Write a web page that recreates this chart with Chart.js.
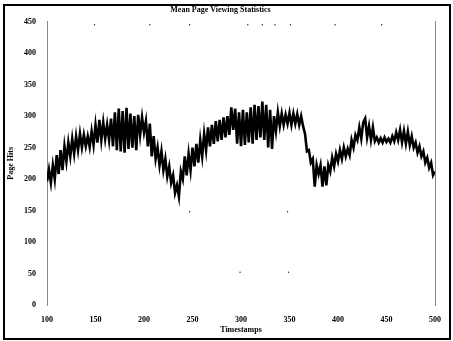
<!DOCTYPE html>
<html>
<head>
<meta charset="utf-8">
<script src="https://cdn.jsdelivr.net/npm/chart.js@4/dist/chart.umd.min.js"></script>
<style>
  body { margin: 0; background: #fff; }
  #wrap { position: relative; width: 453px; height: 341px; }
  #frame { position: absolute; left: 3px; top: 4px; width: 444px; height: 332px; border: 2px solid #000; pointer-events: none; }
  canvas { position: absolute; left: 0; top: 0; }
</style>
</head>
<body>
<div id="wrap">
  <canvas id="chart" width="453" height="341"></canvas>
  <div id="frame"></div>
</div>
<script>
// valores
const xValues = [
  100, 102, 104, 106, 108, 110, 112, 114, 116, 118, 120, 122, 124, 126, 128, 130, 132, 134, 136, 138,
  140, 142, 144, 146, 148, 150, 152, 154, 156, 158, 160, 162, 164, 166, 168, 170, 172, 174, 176, 178,
  180, 182, 184, 186, 188, 190, 192, 194, 196, 198, 200, 202, 204, 206, 208, 210, 212, 214, 216, 218,
  220, 222, 224, 226, 228, 230, 232, 234, 236, 238, 240, 242, 244, 246, 248, 250, 252, 254, 256, 258,
  260, 262, 264, 266, 268, 270, 272, 274, 276, 278, 280, 282, 284, 286, 288, 290, 292, 294, 296, 298,
  300, 302, 304, 306, 308, 310, 312, 314, 316, 318, 320, 322, 324, 326, 328, 330, 332, 334, 336, 338,
  340, 342, 344, 346, 348, 350, 352, 354, 356, 358, 360, 362, 364, 366, 368, 370, 372, 374, 376, 378,
  380, 382, 384, 386, 388, 390, 392, 394, 396, 398, 400, 402, 404, 406, 408, 410, 412, 414, 416, 418,
  420, 422, 424, 426, 428, 430, 432, 434, 436, 438, 440, 442, 444, 446, 448, 450, 452, 454, 456, 458,
  460, 462, 464, 466, 468, 470, 472, 474, 476, 478, 480, 482, 484, 486, 488, 490, 492, 494, 496, 498,
  500
];

const pageValues = [
  196, 215, 194, 222, 200, 238, 208, 246, 214, 252, 228, 258, 236, 264, 240, 268, 246, 272, 250, 270,
  252, 268, 251, 276, 254, 286, 258, 294, 262, 290, 264, 286, 262, 296, 252, 306, 246, 312, 244, 308,
  242, 313, 248, 304, 250, 300, 246, 302, 270, 298, 274, 292, 252, 288, 236, 268, 232, 250, 222, 244,
  214, 232, 204, 220, 194, 206, 178, 190, 172, 212, 200, 236, 206, 240, 214, 250, 220, 256, 226, 262,
  236, 272, 246, 282, 252, 286, 256, 292, 260, 294, 262, 298, 266, 300, 270, 314, 278, 312, 256, 306,
  252, 310, 254, 306, 258, 314, 256, 318, 262, 316, 266, 323, 262, 318, 250, 310, 248, 300, 276, 306,
  284, 304, 286, 302, 288, 305, 286, 304, 288, 303, 286, 300, 284, 272, 244, 246, 226, 232, 188, 222,
  208, 222, 188, 220, 190, 222, 212, 234, 220, 240, 228, 246, 232, 250, 236, 248, 238, 262, 250, 270,
  262, 282, 264, 290, 296, 266, 284, 262, 282, 260, 266, 258, 265, 258, 266, 259, 264, 258, 268, 260,
  274, 262, 278, 258, 276, 256, 275, 254, 268, 250, 258, 242, 252, 236, 244, 226, 234, 218, 226, 206,
  212
];

// puntos sueltos
const strayX = [149, 206, 247, 307, 322, 335, 351, 397, 445, 247, 348, 299, 349];
const strayY = [445, 445, 445, 445, 445, 445, 445, 445, 445, 148, 148, 52, 52];

const yTicks = [0, 50, 100, 150, 200, 250, 300, 350, 400, 450];
const xTicks = [100, 150, 200, 250, 300, 350, 400, 450, 500];

const tickFont = { family: "Liberation Serif", size: 8, weight: "bold" };

const ctx = document.getElementById("chart").getContext("2d");

new Chart(ctx, {
    type: "line",
    data: {
        datasets: [
            {
                label: "Page",
                data: xValues.map((x, i) => ({ x: x, y: pageValues[i] })),
                borderColor: "#000",
                borderWidth: 2.6,
                borderJoinStyle: "miter",
                pointRadius: 0,
                tension: 0,
            },
            {
                label: "stray",
                type: "scatter",
                data: strayX.map((x, i) => ({ x: x, y: strayY[i] })),
                backgroundColor: "#222",
                borderColor: "#222",
                borderWidth: 0,
                pointRadius: 0.7,
                showLine: false,
            },
        ],
    },
    options: {
        responsive: false,
        animation: false,
        layout: { padding: { left: 6, right: 18, top: 0, bottom: 6 } },
        plugins: {
            legend: { display: false },
            tooltip: { enabled: false },
            title: {
                display: true,
                text: "Mean Page Viewing Statistics",
                color: "#000",
                font: { family: "Liberation Serif", size: 8, weight: "bold" },
                padding: { top: 5, bottom: 7 },
            },
        },
        scales: {
            x: {
                type: "linear",
                min: 100,
                max: 500,
                afterBuildTicks: (axis) => { axis.ticks = xTicks.map((v) => ({ value: v })); },
                afterFit: (axis) => { axis.height = 30; },
                ticks: { color: "#000", font: tickFont, padding: 2, maxRotation: 0 },
                grid: { display: false },
                border: { display: false },
                title: { display: true, text: "Timestamps", color: "#000", font: tickFont, padding: 0 },
            },
            y: {
                min: 0,
                max: 450,
                afterBuildTicks: (axis) => { axis.ticks = yTicks.map((v) => ({ value: v })); },
                afterFit: (axis) => { axis.width = 41; },
                ticks: { color: "#000", font: tickFont, padding: 3 },
                grid: { display: false },
                border: { display: true, color: "#888", dash: [1, 1], width: 1 },
                title: { display: true, text: "Page Hits", color: "#000", font: tickFont, padding: 0 },
            },
            y2: {
                position: "right",
                min: 0,
                max: 450,
                afterFit: (axis) => { axis.width = 0; },
                ticks: { display: false },
                grid: { display: false },
                border: { display: true, color: "#888", dash: [1, 1], width: 1 },
            },
        },
    },
});
</script>
</body>
</html>
